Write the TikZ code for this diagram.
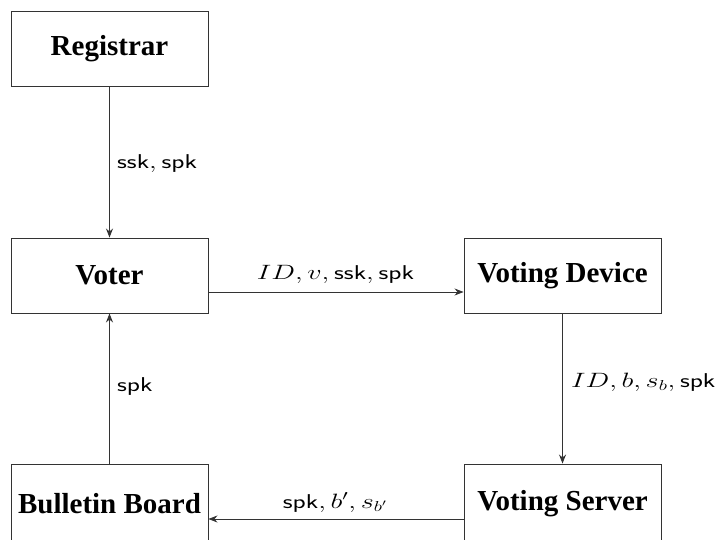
\documentclass[tikz,border=0pt]{standalone}
\usepackage{graphicx}
\usepackage{fontspec}
\newfontfamily\boxfont{Liberation Serif}
\usetikzlibrary{arrows.meta}
\newcommand{\widelbl}[1]{\scalebox{1.36}[1]{$#1$}}
\tikzset{
  entity/.style={draw=black!80, line width=0.9pt, minimum width=197pt, minimum height=75pt, inner sep=0pt, font=\boxfont\bfseries\fontsize{29}{32}\selectfont},
  flow/.style={draw=black!80, line width=0.9pt, -{Stealth[length=9pt,width=7pt]}},
  lbl/.style={inner sep=0pt, font=\fontsize{20}{24}\selectfont}
}
\begin{document}
\begin{tikzpicture}[x=1pt,y=1pt]
\useasboundingbox (0,0) rectangle (717,539);
\clip (0,0) rectangle (717,539);
\node[entity] (reg) at (109.5,490) {Registrar};
\node[entity] (voter) at (109.5,263.5) {Voter};
\node[entity] (dev) at (562.5,263.5) {Voting Device};
\node[entity, minimum height=79pt] (bb) at (109.5,35.5) {\raisebox{-2pt}{Bulletin Board}};
\node[entity, minimum height=79pt] (srv) at (562.5,35.5) {\raisebox{-2pt}{Voting Server}};
\draw[flow] (reg.south) -- (voter.north);
\draw[flow] ([yshift=-16.5pt]voter.east) -- ([yshift=-16.5pt]dev.west);
\draw[flow] (dev.south) -- (srv.north);
\draw[flow] ([yshift=-15.5pt]srv.west) -- ([yshift=-15.5pt]bb.east);
\draw[flow] (bb.north) -- (voter.south);
\node[lbl, anchor=base west] (l1) at (117,370) {\widelbl{\mathsf{ssk},\mathsf{spk}}};
\node[lbl, anchor=base] (l2) at (335.5,260) {\widelbl{ID,v,\mathsf{ssk},\mathsf{spk}}};
\node[lbl, anchor=base west] (l3) at (571,152) {\widelbl{ID,b,s_b,\mathsf{spk}}};
\node[lbl, anchor=base west] (l4) at (117,148) {\widelbl{\mathsf{spk}}};
\node[lbl, anchor=base] (l5) at (335,31) {\widelbl{\mathsf{spk},b',s_{b'}}};
\end{tikzpicture}
\end{document}
